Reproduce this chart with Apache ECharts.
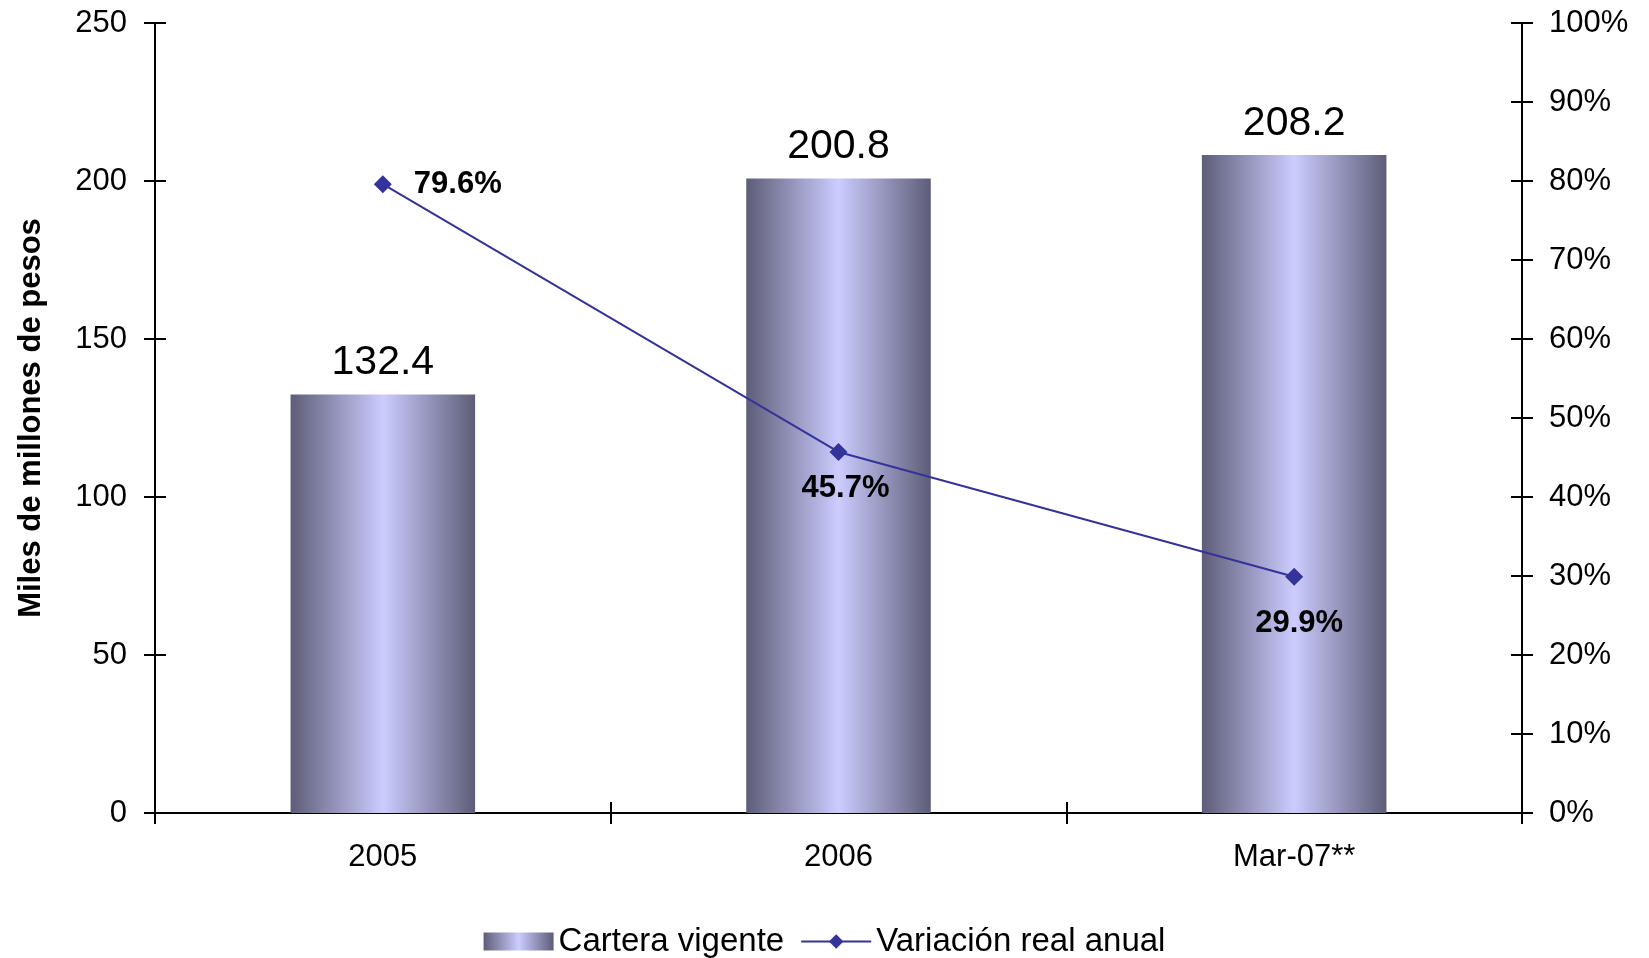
<!DOCTYPE html>
<html>
<head>
<meta charset="utf-8">
<script src="https://cdn.jsdelivr.net/npm/echarts@6/dist/echarts.min.js"></script>
<style>
  html, body { margin: 0; padding: 0; background: #fff; }
  #chart { width: 1649px; height: 958px; }
</style>
</head>
<body>
<div id="chart"></div>
<script>
// datos
const categories = ['2005', '2006', 'Mar-07**']
const cartera = [132.4, 200.8, 208.2]
const variacion = [79.6, 45.7, 29.9]
const labelPos = ['right', 'bottom', 'bottom']
const labelDist = [22, 12, 22]
const labelOffset = [[0, 0], [7, 0], [5, 0]]

const font = 'Liberation Sans, Arial, sans-serif'
const barGrad = new echarts.graphic.LinearGradient(0, 0, 1, 0, [
  { offset: 0, color: '#5d5d78' },
  { offset: 0.5, color: '#ccccff' },
  { offset: 1, color: '#5d5d78' }
])

const chart = echarts.init(document.getElementById('chart'))

// ejes con ticks que cruzan la línea (uno afuera y otro adentro)
const axisLine = { show: true, lineStyle: { color: '#000', width: 2 } }
const tickOut = { show: true, length: 11, lineStyle: { color: '#000', width: 2 } }
const tickIn = { show: true, inside: true, length: 11, lineStyle: { color: '#000', width: 2 } }

const option = {
  animation: false,
  textStyle: { fontFamily: font },
  grid: { left: 155, right: 127, top: 23, bottom: 145 },
  legend: {
    top: 920,
    left: 'center',
    itemWidth: 70,
    itemHeight: 18,
    itemGap: 16,
    textStyle: { fontSize: 33, color: '#000', fontFamily: font },
    data: [
      { name: 'Cartera vigente', icon: 'rect' },
      'Variación real anual'
    ]
  },
  xAxis: [
    {
      type: 'category',
      data: categories,
      axisLine: axisLine,
      axisTick: tickOut,
      axisLabel: { fontSize: 31, color: '#000', margin: 29 },
      splitLine: { show: false }
    },
    {
      type: 'category',
      data: categories,
      position: 'bottom',
      axisLine: { show: false },
      axisTick: tickIn,
      axisLabel: { show: false },
      splitLine: { show: false }
    }
  ],
  yAxis: [
    {
      type: 'value',
      min: 0, max: 250, interval: 50,
      position: 'left',
      name: 'Miles de millones de pesos',
      nameLocation: 'middle',
      nameGap: 108,
      nameTextStyle: { fontSize: 31, fontWeight: 'bold', color: '#000' },
      axisLine: axisLine,
      axisTick: tickOut,
      axisLabel: { fontSize: 31, color: '#000', margin: 28 },
      splitLine: { show: false }
    },
    {
      type: 'value',
      min: 0, max: 250, interval: 50,
      position: 'left',
      axisLine: { show: false },
      axisTick: tickIn,
      axisLabel: { show: false },
      splitLine: { show: false }
    },
    {
      type: 'value',
      min: 0, max: 100, interval: 10,
      position: 'right',
      axisLine: axisLine,
      axisTick: tickOut,
      axisLabel: { fontSize: 31, color: '#000', margin: 27, formatter: '{value}%' },
      splitLine: { show: false }
    },
    {
      type: 'value',
      min: 0, max: 100, interval: 10,
      position: 'right',
      axisLine: { show: false },
      axisTick: tickIn,
      axisLabel: { show: false },
      splitLine: { show: false }
    }
  ],
  series: [
    {
      name: 'Cartera vigente',
      type: 'bar',
      yAxisIndex: 0,
      barWidth: '40.5%',
      itemStyle: { color: barGrad },
      label: {
        show: true,
        position: 'top',
        distance: 11,
        fontSize: 41,
        color: '#000',
        formatter: p => p.value.toFixed(1)
      },
      data: cartera
    },
    {
      name: 'Variación real anual',
      type: 'line',
      yAxisIndex: 2,
      symbol: 'diamond',
      symbolSize: 18,
      lineStyle: { color: '#333399', width: 2 },
      itemStyle: { color: '#333399' },
      label: {
        show: true,
        fontSize: 31,
        fontWeight: 'bold',
        color: '#000',
        formatter: p => p.value.toFixed(1) + '%'
      },
      data: variacion.map((v, i) => ({
        value: v,
        label: { position: labelPos[i], distance: labelDist[i], offset: labelOffset[i] }
      }))
    }
  ]
}

chart.setOption(option)
</script>
</body>
</html>
